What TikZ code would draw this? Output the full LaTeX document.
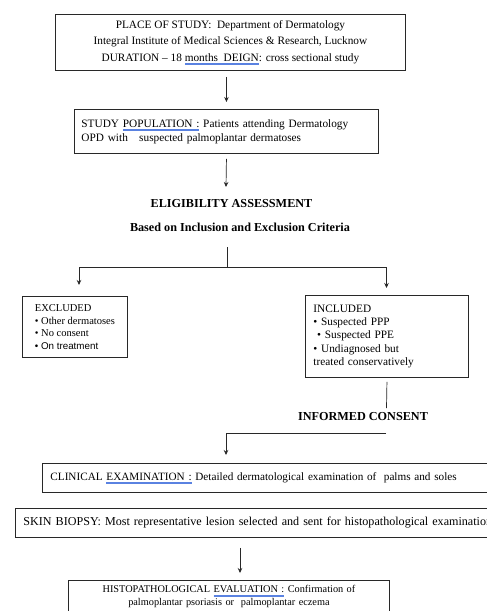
\documentclass[tikz,border=0pt]{standalone}
\usepackage{fontspec}
\setmainfont{Liberation Serif}
\newfontfamily\sansf{Liberation Sans}
\usetikzlibrary{arrows.meta,calc}
\definecolor{spell}{RGB}{90,130,225}
\definecolor{ink}{RGB}{40,40,40}
\newsavebox\spellbox
\newcommand\spellu[1]{\sbox\spellbox{#1}\rlap{\color{spell}\rule[-2.2pt]{\wd\spellbox}{0.35pt}}\rlap{\color{spell}\rule[-3.3pt]{\wd\spellbox}{0.35pt}}\usebox\spellbox}
\begin{document}
\begin{tikzpicture}[x=1pt,y=-1pt,
  box/.style={draw=ink, line width=0.9pt, inner sep=0pt, text=black},
  arr/.style={draw=ink, -{Stealth[length=5pt,width=4.5pt]}, line width=0.7pt},
  ln/.style={draw=ink, line width=0.7pt},
  head/.style={inner sep=0pt, font=\bfseries\fontsize{12.2}{14}\selectfont}]
\useasboundingbox[fill=white] (0,0) rectangle (487,611);
\begin{scope}
\clip (0,0) rectangle (487,611);
% boxes
\node[box, anchor=north west, minimum width=350pt, minimum height=56pt, align=center,
  font=\fontsize{11.3}{16.5}\selectfont] (b1) at (55,14)
  {PLACE OF STUDY:\ \ Department of Dermatology\\
   Integral Institute of Medical Sciences \& Research, Lucknow\\
   DURATION -- 18 \spellu{months\ \ DEIGN}: cross sectional study};
\node[box, anchor=north west, minimum width=304pt, minimum height=44pt, inner xsep=7pt,
  text width=290pt, align=left, font=\fontsize{11.3}{14}\selectfont] (b2) at (74,109)
  {STUDY \spellu{POPULATION :} Patients attending Dermatology\\
   OPD with\ \ \ suspected palmoplantar dermatoses};
\node[head] (elig) at (231.5,204) {ELIGIBILITY ASSESSMENT};
\node[head] (based) at (240,227) {Based on Inclusion and Exclusion Criteria};
\node[box, anchor=north west, minimum width=105pt, minimum height=61pt, align=left,
  font=\fontsize{10.5}{12.7}\selectfont] (exc) at (22,296)
  {EXCLUDED\\ • Other dermatoses\\ • No consent\\ {\sansf\fontsize{9.8}{12.7}\selectfont • On treatment}};
\node[box, anchor=north west, minimum width=163pt, minimum height=82pt, inner xsep=8pt,
  text width=147pt, align=left, font=\fontsize{11.3}{13.2}\selectfont] (inc) at (305,295)
  {INCLUDED\\ • Suspected PPP\\ \ • Suspected PPE\\ • Undiagnosed but\\ treated conservatively};
\node[head] (cons) at (363,417) {INFORMED CONSENT};
\node[box, anchor=north west, minimum width=480pt, minimum height=29pt, inner xsep=8pt,
  text width=464pt, align=left, font=\fontsize{11.2}{13}\selectfont] (clin) at (42,463)
  {CLINICAL \spellu{EXAMINATION :} Detailed dermatological examination of\ \ palms and soles};
\node[box, anchor=north west, minimum width=510pt, minimum height=29pt, inner xsep=8pt,
  text width=494pt, align=left, font=\fontsize{12.1}{14}\selectfont] (skin) at (15,508)
  {SKIN BIOPSY: Most representative lesion selected and sent for histopathological examination};
\node[box, anchor=north west, minimum width=321pt, inner xsep=6pt, inner ysep=5pt,
  text width=309pt, align=center, font=\fontsize{10.3}{13}\selectfont] (histo) at (68,580)
  {HISTOPATHOLOGICAL \spellu{EVALUATION :} Confirmation of\\
   palmoplantar psoriasis or\ \ palmoplantar eczema\\ \strut};
% connectors
\draw[arr] ($(b1.south -| b2.north)+(0,6)$) -- ($(b2.north)+(0,-7)$);
\coordinate (e0) at (226,187);
\draw[arr] ($(b2.south)+(0,5)$) -- (e0);
\coordinate (s0) at (227,247);
\coordinate (s1) at (227,267);
\coordinate (sl) at (79,267);
\coordinate (sr) at (386.5,267);
\draw[ln] (s0) -- (s1);
\draw[ln] (sl) -- (sr);
\draw[arr] (sl) -- ($(sl |- exc.north)+(0,-11)$);
\draw[arr] (sr) -- ($(sr |- inc.north)+(0,-7)$);
\coordinate (c0) at (386.5,408);
\draw[ln] ($(inc.south)+(0,4)$) -- (c0);
\coordinate (c1) at (386,433);
\coordinate (c2) at (226,433);
\draw[ln] (c1) -- (c2);
\draw[arr] (c2) -- ($(c2 |- clin.north)+(0,-8)$);
\draw[arr] ($(skin.south west)+(225,10)$) -- ($(histo.north west)+(172,-7)$);
\end{scope}
\end{tikzpicture}
\end{document}
